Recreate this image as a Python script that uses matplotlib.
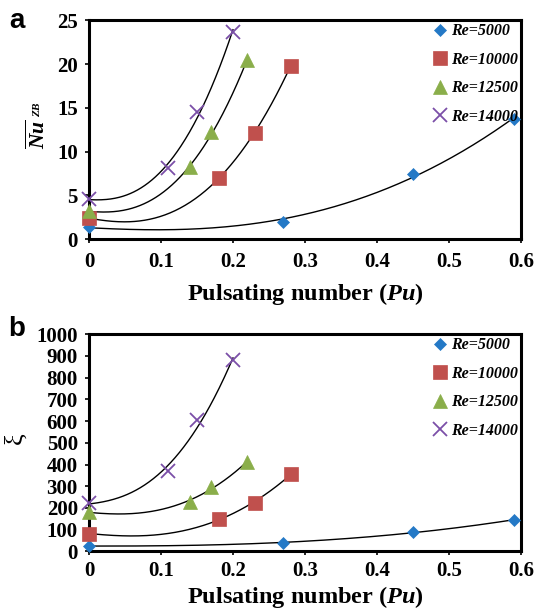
import numpy as np
import matplotlib
matplotlib.use("Agg")
import matplotlib.pyplot as plt

plt.rcParams['font.family'] = ['Liberation Serif', 'DejaVu Serif']
plt.rcParams['font.weight'] = 'bold'
plt.rcParams['mathtext.fontset'] = 'custom'
plt.rcParams['mathtext.it'] = 'Liberation Serif:bold:italic'
plt.rcParams['mathtext.rm'] = 'Liberation Serif:bold'

# Reynolds-number series
labels = ['Re=5000', 'Re=10000', 'Re=12500', 'Re=14000']

# panel a: Nu^ZB vs Pu
pu_a = [[0.0, 0.27, 0.45, 0.59],
        [0.0, 0.18, 0.23, 0.28],
        [0.0, 0.14, 0.17, 0.22],
        [0.0, 0.11, 0.15, 0.20]]
nu_a = [[1.4, 2.0, 7.5, 13.7],
        [2.4, 7.0, 12.1, 19.8],
        [3.2, 8.2, 12.2, 20.5],
        [4.6, 8.1, 14.5, 23.7]]

# panel b: xi vs Pu
pu_b = pu_a
xi_b = [[25, 40, 88, 145],
        [82, 148, 225, 355],
        [180, 228, 298, 412],
        [222, 369, 603, 880]]

markers = ['D', 's', '^', 'x']
colors = ['#2479C6', '#C0504D', '#8AAE4A', '#7B4FA8']
sizes = [6.5, 10, 9.5, 9.5]

fig = plt.figure(figsize=(5.36, 6.12), dpi=100)
ax_a = fig.add_axes([0.166, 0.609, 0.806, 0.358])
ax_b = fig.add_axes([0.166, 0.099, 0.806, 0.355])


def trend(x, y, xx):
    # least-squares trend line with terms 1, x, x^2.5
    x = np.asarray(x, float)
    A = np.vstack([np.ones_like(x), x, x ** 2.5]).T
    c = np.linalg.lstsq(A, np.asarray(y, float), rcond=None)[0]
    return c[0] + c[1] * xx + c[2] * xx ** 2.5


def draw(ax, xs, ys, ylim, yticks, label_y, xpad):
    for x, y, m, c, s, lab in zip(xs, ys, markers, colors, sizes, labels):
        xx = np.linspace(0, max(x), 200)
        ax.plot(xx, trend(x, y, xx), color='black', lw=1.0, zorder=2)
        ax.plot(x, y, linestyle='none', marker=m, color=c, markersize=s,
                markeredgewidth=1.3 if m == 'x' else 0.5, label=lab, zorder=3,
                clip_on=False)
    ax.set_xlim(0, 0.6)
    ax.set_ylim(*ylim)
    ax.set_xticks([0, 0.1, 0.2, 0.3, 0.4, 0.5, 0.6])
    ax.set_xticklabels(['0', '0.1', '0.2', '0.3', '0.4', '0.5', '0.6'])
    ax.set_yticks(yticks)
    for sp in ax.spines.values():
        sp.set_linewidth(2.2)
    ax.tick_params(axis='both', direction='out', length=3, width=1.2,
                   labelsize=15)
    ax.tick_params(axis='y', pad=5)
    ax.tick_params(axis='x', pad=xpad)
    ax.set_xlabel(r'Pulsating number ($\mathit{Pu}$)', fontsize=17.5,
                  fontweight='bold')
    ax.xaxis.set_label_coords(0.5, label_y)
    ax.legend(loc='upper right', bbox_to_anchor=(1.0, 1.0),
              frameon=False, handlelength=0.8, handletextpad=0.3,
              labelspacing=0.78, borderaxespad=0.0, borderpad=0.2,
              prop={'family': 'Liberation Serif', 'weight': 'bold',
                    'style': 'italic', 'size': 11.5})


draw(ax_a, pu_a, nu_a, (0, 25), [0, 5, 10, 15, 20, 25], -0.19, 6)
draw(ax_b, pu_b, xi_b, (0, 1000), list(range(0, 1001, 100)), -0.148, 4)

# y labels
fig.text(0.071, 0.780, r'$\overline{Nu}$', rotation=90, fontsize=15.5,
         ha='center', va='center')
fig.text(0.068, 0.822, r'$ZB$', rotation=90, fontsize=8,
         ha='center', va='center')
fig.text(0.028, 0.284, 'ξ', rotation=90, fontsize=19, fontweight='normal',
         ha='center', va='center')

fig.text(0.018, 0.966, 'a', fontsize=20, fontweight='bold',
         family='Liberation Sans', va='center')
fig.text(0.016, 0.462, 'b', fontsize=20, fontweight='bold',
         family='Liberation Sans', va='center')

fig.savefig('out.png', dpi=100)
